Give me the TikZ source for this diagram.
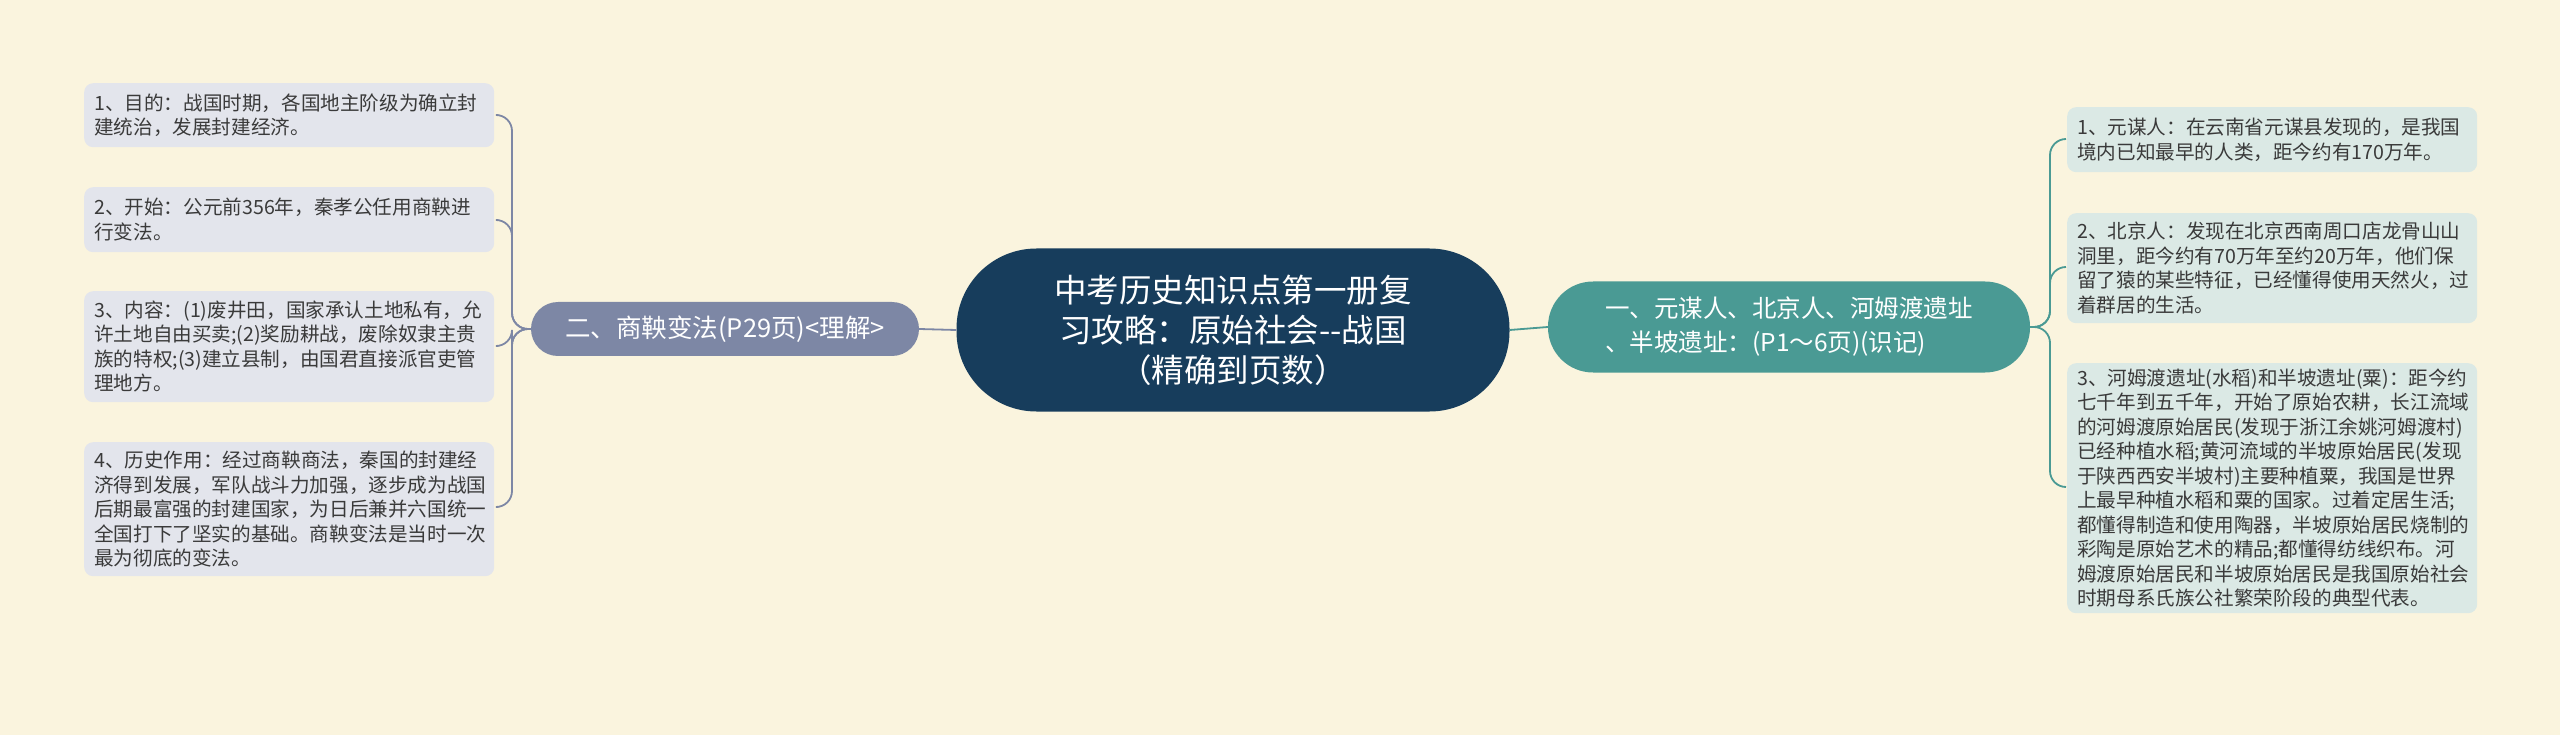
\documentclass[tikz,border=0pt]{standalone}
\usepackage{fontspec}
\setmainfont{Noto Sans CJK SC}
\begin{document}
\begin{tikzpicture}[x=1pt,y=-1pt,
 leafL/.style={rounded corners=9, fill=leafl, text=txt, align=left, text width=390pt, inner xsep=10pt, inner ysep=0pt, font=\fontsize{19.6}{24.5}\selectfont, anchor=north west},
 leafR/.style={leafL, fill=leafr},
 lineL/.style={draw=lbr, line width=1.8pt, rounded corners=16},
 lineR/.style={draw=rbr, line width=1.8pt, rounded corners=16}]
\definecolor{bg}{HTML}{FAF4DE}
\definecolor{leafl}{HTML}{E3E5EC}
\definecolor{leafr}{HTML}{DBE9E5}
\definecolor{txt}{HTML}{3A3A3A}
\definecolor{lbr}{HTML}{7D87A5}
\definecolor{rbr}{HTML}{4A9A94}
\definecolor{ctr}{HTML}{173D5C}
\fill[bg] (0,0) rectangle (2560,735);
\useasboundingbox (0,0) rectangle (2560,735);

\node[fill=ctr, text=white, rounded corners=80, minimum width=553pt, minimum height=163pt, align=center, font=\fontsize{32.5}{40}\selectfont] (c) at (1233,330) {中考历史知识点第一册复\\习攻略：原始社会-{}-战国\\（精确到页数）};

\node[fill=lbr, text=white, rounded corners=27, minimum width=388pt, minimum height=54pt, font=\fontsize{25.5}{30}\selectfont] (lb) at (725,329) {二、商鞅变法(P29页)<理解>};
\node[fill=rbr, text=white, rounded corners=45, minimum width=482pt, minimum height=91pt, align=left, font=\fontsize{24.5}{34}\selectfont] (rb) at (1789,327) {一、元谋人、北京人、河姆渡遗址\\、半坡遗址：(P1～6页)(识记)};

\draw[lineL] (c.west) -- (lb.east);
\draw[lineR] (c.east) -- (rb.east -| rb.west);

\node[leafL, minimum height=64pt] (l1) at (84,83) {1、目的：战国时期，各国地主阶级为确立封\\建统治，发展封建经济。};
\node[leafL, minimum height=65pt] (l2) at (84,187) {2、开始：公元前356年，秦孝公任用商鞅进\\行变法。};
\node[leafL, minimum height=111pt] (l3) at (84,291) {3、内容：(1)废井田，国家承认土地私有，允\\许土地自由买卖;(2)奖励耕战，废除奴隶主贵\\族的特权;(3)建立县制，由国君直接派官吏管\\理地方。};
\node[leafL, minimum height=134pt] (l4) at (84,442) {4、历史作用：经过商鞅商法，秦国的封建经\\济得到发展，军队战斗力加强，逐步成为战国\\后期最富强的封建国家，为日后兼并六国统一\\全国打下了坚实的基础。商鞅变法是当时一次\\最为彻底的变法。};

\node[leafR, minimum height=65pt] (r1) at (2067,107) {1、元谋人：在云南省元谋县发现的，是我国\\境内已知最早的人类，距今约有170万年。};
\node[leafR, minimum height=110pt] (r2) at (2067,213) {2、北京人：发现在北京西南周口店龙骨山山\\洞里，距今约有70万年至约20万年，他们保\\留了猿的某些特征，已经懂得使用天然火，过\\着群居的生活。};
\node[leafR, minimum height=250pt] (r3) at (2067,363) {3、河姆渡遗址(水稻)和半坡遗址(粟)：距今约\\七千年到五千年，开始了原始农耕，长江流域\\的河姆渡原始居民(发现于浙江余姚河姆渡村)\\已经种植水稻;黄河流域的半坡原始居民(发现\\于陕西西安半坡村)主要种植粟，我国是世界\\上最早种植水稻和粟的国家。过着定居生活;\\都懂得制造和使用陶器，半坡原始居民烧制的\\彩陶是原始艺术的精品;都懂得纺线织布。河\\姆渡原始居民和半坡原始居民是我国原始社会\\时期母系氏族公社繁荣阶段的典型代表。};

\coordinate (lt) at (512,329);
\foreach \n/\y in {l1/115,l2/220,l3/346,l4/507}{
  \draw[lineL] (lb.west) -- (lt) |- ([xshift=4pt]\n.east |- 0,\y);
}
\coordinate (rt) at (2050,327);
\foreach \n/\y in {r1/139,r2/267,r3/487}{
  \draw[lineR] (rb.east) -- (rt) |- ([xshift=-1pt]\n.west |- 0,\y);
}
\end{tikzpicture}
\end{document}
